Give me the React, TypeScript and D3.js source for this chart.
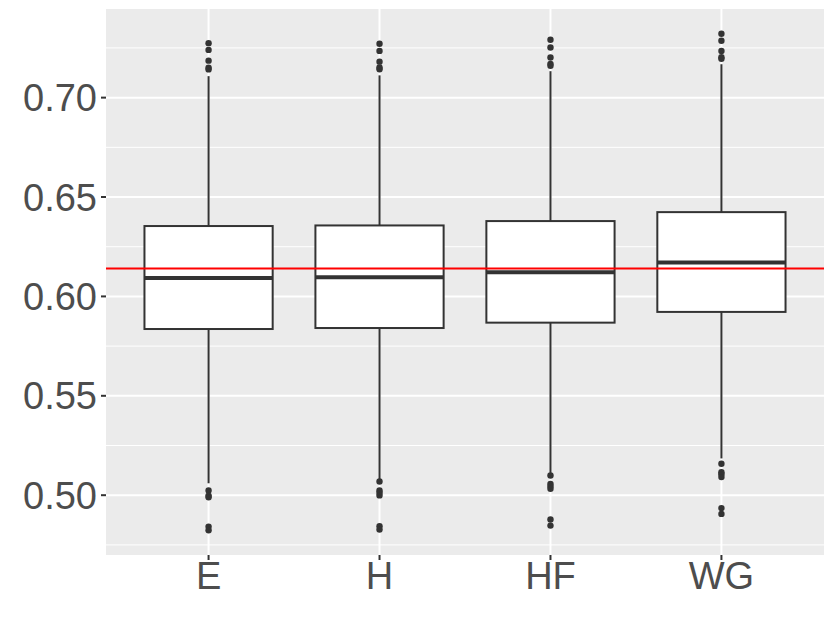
import React from 'react';
import * as d3 from 'd3';

const categories = ['E', 'H', 'HF', 'WG'];
const q1 = [0.5836, 0.5841, 0.5868, 0.5922];
const medians = [0.6093, 0.6097, 0.6122, 0.617];
const q3 = [0.6354, 0.6357, 0.6379, 0.6424];
const whiskerLow = [0.506, 0.508, 0.5112, 0.5185];
const whiskerHigh = [0.7108, 0.7112, 0.7133, 0.7168];
const outliers = [
  [0.7274, 0.724, 0.7186, 0.715, 0.7142, 0.5024, 0.4998, 0.499, 0.4842, 0.4824],
  [0.7271, 0.7235, 0.7181, 0.7152, 0.7143, 0.5069, 0.5024, 0.5012, 0.4999, 0.4844, 0.4827],
  [0.7291, 0.7252, 0.7202, 0.717, 0.716, 0.5099, 0.5057, 0.5045, 0.5032, 0.4878, 0.4847],
  [0.7321, 0.7286, 0.7235, 0.7203, 0.7195, 0.5158, 0.5116, 0.5105, 0.5091, 0.4935, 0.4906],
];
const majorTicks = [0.5, 0.55, 0.6, 0.65, 0.7];
const minorTicks = [0.475, 0.525, 0.575, 0.625, 0.675, 0.725];
const refLine = 0.614;

const W = 830;
const H = 623;
const panel = { left: 106, right: 824, top: 9, bottom: 555 };

const App = () => {
  const all = outliers.flat().concat(whiskerLow, whiskerHigh);
  const [lo, hi] = d3.extent(all) as [number, number];
  const pad = (hi - lo) * 0.05;
  const y = d3.scaleLinear().domain([lo - pad, hi + pad]).range([panel.bottom, panel.top]);
  // ggplot-style discrete expansion: 0.6 units on each side
  const x = d3.scaleBand().domain(categories).range([panel.left, panel.right]).paddingInner(0).paddingOuter(0.1);
  const cx = (c: string) => (x(c) as number) + x.bandwidth() / 2;
  const boxW = x.step() * 0.75;
  const textCol = '#4D4D4D';
  const lineCol = '#333333';

  return (
    <svg width={W} height={H} style={{ position: 'absolute', left: 0, top: 0, background: '#fff' }}
      fontFamily="'Liberation Sans', Arial, sans-serif">
      <rect x={panel.left} y={panel.top} width={panel.right - panel.left} height={panel.bottom - panel.top} fill="#EBEBEB" />
      {minorTicks.map(t => (
        <line key={'mi' + t} x1={panel.left} x2={panel.right} y1={y(t)} y2={y(t)} stroke="#fff" strokeWidth={1} />
      ))}
      {majorTicks.map(t => (
        <line key={'ma' + t} x1={panel.left} x2={panel.right} y1={y(t)} y2={y(t)} stroke="#fff" strokeWidth={2} />
      ))}
      {categories.map(c => (
        <line key={'vx' + c} x1={cx(c)} x2={cx(c)} y1={panel.top} y2={panel.bottom} stroke="#fff" strokeWidth={2} />
      ))}
      {categories.map((c, i) => (
        <g key={'box' + c}>
          <line x1={cx(c)} x2={cx(c)} y1={y(whiskerHigh[i])} y2={y(q3[i])} stroke={lineCol} strokeWidth={2} />
          <line x1={cx(c)} x2={cx(c)} y1={y(q1[i])} y2={y(whiskerLow[i])} stroke={lineCol} strokeWidth={2} />
          <rect x={cx(c) - boxW / 2} y={y(q3[i])} width={boxW} height={y(q1[i]) - y(q3[i])}
            fill="#fff" stroke={lineCol} strokeWidth={2} />
          <line x1={cx(c) - boxW / 2} x2={cx(c) + boxW / 2} y1={y(medians[i])} y2={y(medians[i])}
            stroke={lineCol} strokeWidth={4} />
          {outliers[i].map((v, j) => (
            <circle key={j} cx={cx(c)} cy={y(v)} r={3.2} fill={lineCol} />
          ))}
        </g>
      ))}
      <line x1={panel.left} x2={panel.right} y1={y(refLine)} y2={y(refLine)} stroke="red" strokeWidth={2} />
      {majorTicks.map(t => (
        <g key={'yt' + t}>
          <line x1={panel.left - 5} x2={panel.left} y1={y(t)} y2={y(t)} stroke={lineCol} strokeWidth={2} />
          <text x={panel.left - 9} y={y(t)} dy="0.36em" textAnchor="end" fontSize={38} fill={textCol}>
            {d3.format('.2f')(t)}
          </text>
        </g>
      ))}
      {categories.map(c => (
        <g key={'xt' + c}>
          <line x1={cx(c)} x2={cx(c)} y1={panel.bottom} y2={panel.bottom + 5} stroke={lineCol} strokeWidth={2} />
          <text x={cx(c)} y={589} textAnchor="middle" fontSize={38} fill={textCol}>{c}</text>
        </g>
      ))}
    </svg>
  );
};

export default App;
